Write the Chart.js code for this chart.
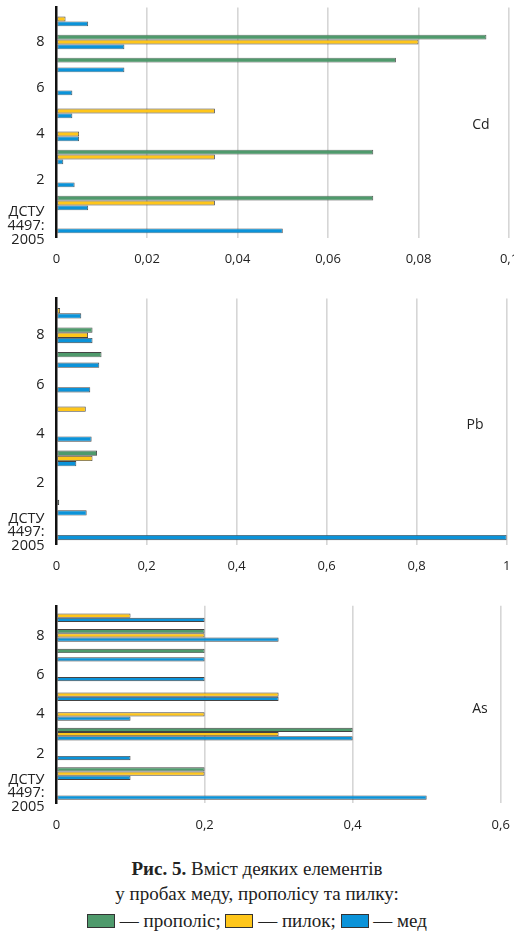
<!DOCTYPE html>
<html>
<head>
<meta charset="utf-8">
<script src="https://cdn.jsdelivr.net/npm/chart.js@4"></script>
<style>
    body { margin: 0; width: 514px; height: 952px; background: #fff; overflow: hidden; position: relative; font-family: 'Open Sans', sans-serif; }
    .panel { position: absolute; left: 0; width: 514px; }
    .el { position: absolute; font-size: 14px; color: #222; transform: translate(-50%, -50%); }
    .caption { position: absolute; left: 0; width: 514px; text-align: center; font-family: 'Liberation Serif', serif; font-size: 19px; color: #222; line-height: 25px; }
    .sw { display: inline-block; width: 26px; height: 12px; border: 1px solid #333; vertical-align: -1px; }
</style>
</head>
<body>
<div class="panel" style="top:0;height:275px"><canvas id="cd-chart"></canvas></div>
<div class="panel" style="top:285px;height:305px"><canvas id="pb-chart"></canvas></div>
<div class="panel" style="top:595px;height:250px"><canvas id="as-chart"></canvas></div>

<div class="el" style="left:481px;top:123px">Cd</div>
<div class="el" style="left:475px;top:423px">Pb</div>
<div class="el" style="left:480px;top:707px">As</div>

<div class="caption" style="top:856px">
    <b>Рис. 5.</b> Вміст деяких елементів<br>
    у пробах меду, прополісу та пилку:
</div>
<div class="caption" style="top:908px">
    <span class="sw" style="background:#4f9a6c"></span> — прополіс;
    <span class="sw" style="background:#ffc61a"></span> — пилок;
    <span class="sw" style="background:#0b93d9"></span> — мед
</div>

<script>
// Samples: standard (ДСТУ 4497:2005) and samples 1..9
const categories = [['ДСТУ', '4497:', '2005'], '1', '2', '3', '4', '5', '6', '7', '8', '9'];
const seriesNames = ['прополіс', 'пилок', 'мед'];
const seriesColors = ['#4f9a6c', '#ffc61a', '#0b93d9'];

// Cd
const cdPropolis = [null, 0.07, null, 0.07, null, null, null, 0.075, 0.095, null];
const cdPollen   = [null, 0.035, null, 0.035, 0.005, 0.035, null, null, 0.08, 0.002];
const cdHoney    = [0.05, 0.007, 0.004, 0.0015, 0.005, 0.0035, 0.0035, 0.015, 0.015, 0.007];
const cdTicks    = { max: 0.1, step: 0.02 };

// Pb
const pbPropolis = [null, 0.006, null, 0.09, null, null, null, 0.1, 0.08, null];
const pbPollen   = [null, null, null, 0.08, null, 0.065, null, null, 0.07, 0.008];
const pbHoney    = [1.0, 0.067, 0.001, 0.044, 0.078, null, 0.075, 0.095, 0.08, 0.055];
const pbTicks    = { max: 1, step: 0.2 };

// As
const asPropolis = [null, 0.2, null, 0.4, null, null, null, 0.2, 0.2, null];
const asPollen   = [null, 0.2, null, 0.3, 0.2, 0.3, null, null, 0.2, 0.1];
const asHoney    = [0.5, 0.1, 0.1, 0.4, 0.1, 0.3, 0.2, 0.2, 0.3, 0.2];
const asTicks    = { max: 0.6, step: 0.2 };

const TEXT = '#222';

/**
 * Build one horizontal bar panel
 * @param {string} id - canvas id
 * @param {Array} series - [propolis, pollen, honey]
 * @param {Object} ticks - x axis max/step
 * @param {Object} box - plot area placement inside the panel
 */
function makeChart(id, series, ticks, box) {
    // standard at the bottom, sample 9 at the top
    const labels = categories.slice().reverse();
    const datasets = series.map((data, i) => ({
        label: seriesNames[i],
        data: data.slice().reverse(),
        backgroundColor: seriesColors[i],
        borderColor: '#444',
        borderWidth: 0.9,
        borderSkipped: false,
        categoryPercentage: 0.64,
        barPercentage: 1.0
    }));

    return new Chart(document.getElementById(id), {
        type: 'bar',
        data: { labels, datasets },
        options: {
            indexAxis: 'y',
            responsive: true,
            maintainAspectRatio: false,
            animation: false,
            layout: { padding: { top: box.top, right: box.right, left: 0, bottom: 0 } },
            plugins: { legend: { display: false }, tooltip: { enabled: false } },
            scales: {
                x: {
                    min: 0,
                    max: ticks.max,
                    grid: {
                        drawTicks: false,
                        lineWidth: 1.6,
                        color: ctx => (ctx.tick && ctx.tick.value === 0) ? 'rgba(0,0,0,0)' : '#d6d6d6'
                    },
                    border: { display: false },
                    ticks: {
                        stepSize: ticks.step,
                        padding: 14,
                        color: TEXT,
                        font: { family: 'Open Sans', size: 13 },
                        maxRotation: 0,
                        callback: v => Number(v.toFixed(3)).toString().replace('.', ',')
                    },
                    afterFit: s => {
                        s.height = box.axis;
                        s.paddingLeft = 0;
                        s.paddingRight = 0;
                    }
                },
                y: {
                    grid: { display: false, drawTicks: false },
                    border: { display: true, color: '#111', width: 2.5 },
                    ticks: {
                        autoSkip: false,
                        padding: 12,
                        color: TEXT,
                        font: { family: 'Open Sans', size: 14.5, lineHeight: 0.95 },
                        // only every second sample is labelled
                        callback: function (v, i) {
                            const orig = labels.length - 1 - i;
                            return orig % 2 === 0 ? this.getLabelForValue(v) : '';
                        }
                    },
                    afterFit: s => {
                        s.width = 56.5;
                        s.paddingTop = 0;
                        s.paddingBottom = 0;
                    }
                }
            }
        }
    });
}

makeChart('cd-chart', [cdPropolis, cdPollen, cdHoney], cdTicks, { top: 7.5, axis: 37.5, right: 5 });
makeChart('pb-chart', [pbPropolis, pbPollen, pbHoney], pbTicks, { top: 13.4, axis: 45.4, right: 7.3 });
makeChart('as-chart', [asPropolis, asPollen, asHoney], asTicks, { top: 10.8, axis: 41.8, right: 13.3 });
</script>
</body>
</html>
